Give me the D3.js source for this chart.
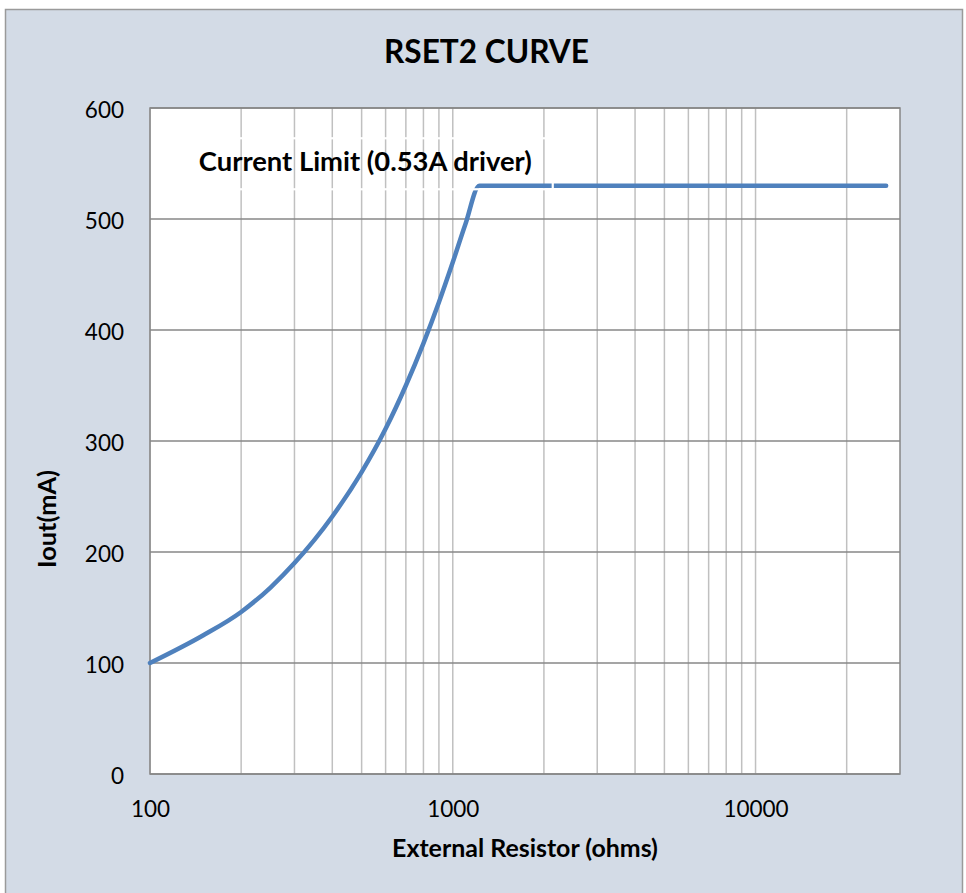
<!DOCTYPE html>
<html>
<head>
<meta charset="utf-8">
<script src="https://cdn.jsdelivr.net/npm/d3@7"></script>
<style>
  html, body { margin: 0; padding: 0; background: #ffffff; }
  svg { display: block; }
  text { font-family: Lato, "Open Sans", sans-serif; fill: #000; }
</style>
</head>
<body>
<script>
// ---- data ----
const resistance = [100, 150, 200, 250, 300, 400, 500, 600, 700, 800, 900, 1000, 1100, 1225, 27000];
const currentMA  = [100, 125, 146, 168, 190, 232, 272, 311, 350, 388, 425, 461, 495, 530, 530];
const xTickValues = [100, 1000, 10000];
const xTickLabels = ["100", "1000", "10000"];
const xMinorGrid = [200, 300, 400, 500, 600, 700, 800, 900, 2000, 3000, 4000, 5000, 6000, 7000, 8000, 9000, 20000];
const yTickValues = [0, 100, 200, 300, 400, 500, 600];
const chartTitle = "RSET2 CURVE";
const xTitle = "External Resistor (ohms)";
const yTitle = "Iout(mA)";
const annotation = "Current Limit (0.53A driver)";
const annotationAt = [145, 543];

// ---- layout ----
const W = 966, H = 893;
const plot = { left: 150, right: 900, top: 108, bottom: 774 };

const svg = d3.select("body").append("svg").attr("width", W).attr("height", H);

// outer chart frame
svg.append("rect").attr("x", 5.5).attr("y", 9.5).attr("width", 957).attr("height", 900)
  .attr("fill", "#d3dbe6").attr("stroke", "#9a9a9a").attr("stroke-width", 1.5);

const x = d3.scaleLog().domain([100, 30000]).range([plot.left, plot.right]);
const y = d3.scaleLinear().domain([0, 600]).range([plot.bottom, plot.top]);

// plot area
svg.append("rect").attr("x", plot.left).attr("y", plot.top)
  .attr("width", plot.right - plot.left).attr("height", plot.bottom - plot.top)
  .attr("fill", "#ffffff");

// vertical gridlines
const vg = [...xTickValues, ...xMinorGrid];
svg.append("g").selectAll("line").data(vg).join("line")
  .attr("x1", d => x(d)).attr("x2", d => x(d))
  .attr("y1", plot.top).attr("y2", plot.bottom)
  .attr("stroke", "#c0c0c0").attr("stroke-width", 1.5);

// horizontal gridlines
svg.append("g").selectAll("line").data(yTickValues).join("line")
  .attr("x1", plot.left).attr("x2", plot.right)
  .attr("y1", d => y(d)).attr("y2", d => y(d))
  .attr("stroke", "#878787").attr("stroke-width", 1.5);

// plot border
svg.append("rect").attr("x", plot.left).attr("y", plot.top)
  .attr("width", plot.right - plot.left).attr("height", plot.bottom - plot.top)
  .attr("fill", "none").attr("stroke", "#878787").attr("stroke-width", 1.5);

// y axis (labels only)
const yAxis = d3.axisLeft(y).tickValues(yTickValues).tickSize(0).tickPadding(0).tickFormat(d3.format("d"));
const gy = svg.append("g").attr("transform", `translate(124,0)`).call(yAxis);
gy.select(".domain").remove();
gy.selectAll("text").attr("font-size", 22.5).attr("font-family", "Lato").attr("fill", "#000")
  .attr("dy", null).attr("y", 9).attr("text-anchor", "end");

// x axis (labels only)
const xAxis = d3.axisBottom(x).tickValues(xTickValues).tickSize(0).tickPadding(0)
  .tickFormat((d, i) => xTickLabels[i]);
const gx = svg.append("g").attr("transform", `translate(0,0)`).call(xAxis);
gx.select(".domain").remove();
gx.selectAll("text").attr("font-size", 22.5).attr("font-family", "Lato").attr("fill", "#000")
  .attr("dy", null).attr("y", 816.5).attr("text-anchor", "middle");

// helper to fit text width
function fit(sel, target) {
  const w = sel.node().getComputedTextLength();
  const fs = parseFloat(sel.attr("font-size"));
  sel.attr("font-size", (fs * target / w).toFixed(2));
}

// data line
const pts = resistance.map((r, i) => [r, currentMA[i]]);
const line = d3.line().x(d => x(d[0])).y(d => y(d[1])).curve(d3.curveMonotoneX);
svg.append("path").datum(pts).attr("d", line)
  .attr("fill", "none").attr("stroke", "#4f81bd").attr("stroke-width", 4.5)
  .attr("stroke-linecap", "round").attr("stroke-linejoin", "round");

// annotation
const ann = svg.append("text").attr("x", x(annotationAt[0])).attr("y", y(annotationAt[1]))
  .attr("font-size", 25).attr("font-weight", "bold").text(annotation);
fit(ann, 333);
const ab = ann.node().getBBox();
// white outline of the annotation text box
svg.append("rect")
  .attr("x", ab.x - 21).attr("y", ab.y - 6)
  .attr("width", ab.width + 42).attr("height", (y(annotationAt[1]) + 18) - (ab.y - 6))
  .attr("fill", "none").attr("stroke", "#ffffff").attr("stroke-width", 2.2);

// title
const t = svg.append("text").attr("x", 486.5).attr("y", 62.7).attr("text-anchor", "middle")
  .attr("font-size", 32).attr("font-weight", "bold").text(chartTitle);
fit(t, 205);

// x title
const xt = svg.append("text").attr("x", 525).attr("y", 857).attr("text-anchor", "middle")
  .attr("font-size", 23).attr("font-weight", "bold").text(xTitle);
fit(xt, 266);

// y title
const yt = svg.append("text").attr("transform", "translate(55.5,519) rotate(-90)")
  .attr("text-anchor", "middle").attr("font-size", 23).attr("font-weight", "bold").text(yTitle);
fit(yt, 98);
</script>
</body>
</html>
